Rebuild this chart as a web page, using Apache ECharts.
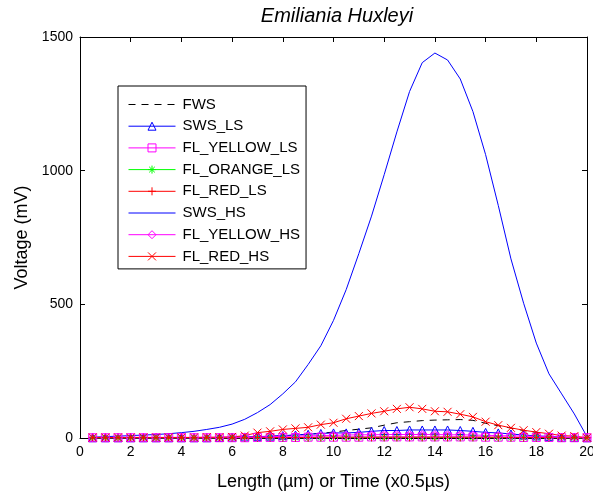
<!DOCTYPE html>
<html>
<head>
<meta charset="utf-8">
<script src="https://cdn.jsdelivr.net/npm/echarts@6/dist/echarts.min.js"></script>
<style>
  html, body { margin: 0; padding: 0; background: #fff; }
  #chart { width: 593px; height: 491px; }
</style>
</head>
<body>
<div id="chart"></div>
<script>
// Sample positions along the particle (0.5 steps)
var xPos = [0.5, 1, 1.5, 2, 2.5, 3, 3.5, 4, 4.5, 5, 5.5, 6, 6.5, 7, 7.5, 8, 8.5, 9, 9.5, 10,
            10.5, 11, 11.5, 12, 12.5, 13, 13.5, 14, 14.5, 15, 15.5, 16, 16.5, 17, 17.5, 18, 18.5, 19, 19.5, 20];

// Channel voltages (mV)
var fws        = [2, 2, 2, 2, 2, 2, 2, 2, 2, 2, 2, 2, 3, 4, 6, 8, 11, 14, 18, 22,
                  28, 33, 38, 48, 57, 61, 65, 67, 68, 69, 66, 55, 46, 37, 28, 21, 14, 8, 5, 1];
var swsLS      = [1, 1, 1, 1, 1, 1, 1, 1, 1, 1, 2, 3, 4, 5, 7, 9, 11, 14, 17, 19,
                  19, 21, 25, 28, 28, 30, 30, 30, 30, 28, 25, 21, 19, 15, 11, 8, 6, 3, 2, 1];
var flYellowLS = [1, 1, 1, 1, 1, 1, 1, 1, 1, 1, 1, 1, 1, 2, 2, 2, 2, 3, 3, 3,
                  3, 3, 4, 4, 4, 4, 4, 4, 4, 4, 4, 3, 3, 3, 2, 2, 2, 1, 1, 1];
var flOrangeLS = [0, 0, 0, 0, 0, 0, 0, 0, 0, 0, 0, 1, 1, 1, 1, 1, 1, 1, 1, 2,
                  2, 2, 2, 2, 2, 2, 2, 2, 2, 2, 2, 2, 1, 1, 1, 1, 1, 1, 0, 0];
var flRedLS    = [1, 1, 1, 1, 1, 1, 1, 1, 1, 1, 1, 1, 1, 2, 2, 2, 2, 2, 3, 3,
                  3, 3, 3, 3, 3, 3, 3, 3, 3, 3, 3, 3, 3, 2, 2, 2, 2, 1, 1, 1];
var swsHS      = [3, 5, 7, 9, 11, 13, 16, 20, 25, 32, 40, 52, 70, 95, 125, 165, 210, 275, 345, 440,
                  555, 690, 830, 985, 1145, 1296, 1404, 1440, 1414, 1343, 1221, 1060, 870, 670, 504, 355, 240, 165, 90, 5];
var flYellowHS = [1, 1, 1, 1, 1, 1, 1, 1, 1, 1, 2, 2, 3, 4, 5, 6, 7, 8, 9, 10,
                  11, 12, 12, 13, 13, 13, 13, 13, 12, 12, 11, 10, 9, 8, 7, 6, 4, 3, 2, 1];
var flRedHS    = [2, 2, 2, 2, 2, 2, 2, 2, 2, 3, 3, 4, 9, 20, 25, 32, 36, 40, 50, 57,
                  72, 82, 92, 100, 109, 115, 109, 100, 98, 89, 79, 61, 48, 38, 29, 22, 16, 9, 7, 1];

var seriesNames = ['FWS', 'SWS_LS', 'FL_YELLOW_LS', 'FL_ORANGE_LS', 'FL_RED_LS', 'SWS_HS', 'FL_YELLOW_HS', 'FL_RED_HS'];
var xTicks = [0, 2, 4, 6, 8, 10, 12, 14, 16, 18, 20];
var yTicks = [0, 500, 1000, 1500];

var FONT = '"Liberation Sans", Arial, Helvetica, sans-serif';

// Stroke-only marker shapes
var MARK_PLUS = 'path://M0,5L10,5M5,0L5,10';
var MARK_CROSS = 'path://M0,0L10,10M10,0L0,10';
var MARK_STAR = 'path://M0,5L10,5M5,0L5,10M1.5,1.5L8.5,8.5M8.5,1.5L1.5,8.5';

function pairs(ys) {
  return ys.map(function (y, i) { return [xPos[i], y]; });
}

function makeSeries(name, ys, color, symbol, dashed) {
  return {
    name: name,
    type: 'line',
    data: pairs(ys),
    symbol: symbol || 'none',
    symbolSize: 8,
    showSymbol: !!symbol,
    lineStyle: { color: color, width: 1, type: dashed ? [7, 6] : 'solid' },
    itemStyle: { color: symbol ? 'transparent' : color, borderColor: color, borderWidth: 1 },
    emphasis: { disabled: true },
    animation: false,
    z: 2
  };
}

var series = [
  makeSeries(seriesNames[0], fws, '#000000', null, true),
  makeSeries(seriesNames[1], swsLS, '#0000ff', 'triangle'),
  makeSeries(seriesNames[2], flYellowLS, '#ff00ff', 'rect'),
  makeSeries(seriesNames[3], flOrangeLS, '#00ff00', MARK_STAR),
  makeSeries(seriesNames[4], flRedLS, '#ff0000', MARK_PLUS),
  makeSeries(seriesNames[5], swsHS, '#0000ff', null),
  makeSeries(seriesNames[6], flYellowHS, '#ff00ff', 'diamond'),
  makeSeries(seriesNames[7], flRedHS, '#ff0000', MARK_CROSS)
];

var legendData = series.map(function (s) {
  var hasMark = s.symbol !== 'none';
  return {
    name: s.name,
    itemStyle: hasMark
      ? { color: 'transparent', borderColor: s.lineStyle.color, borderWidth: 1 }
      : { opacity: 0 },
    lineStyle: { color: s.lineStyle.color, width: 1, type: s.lineStyle.type }
  };
});

function axisCommon() {
  return {
    axisLine: { show: true, onZero: false, lineStyle: { color: '#000', width: 1 } },
    axisTick: { show: true, inside: true, length: 5, lineStyle: { color: '#000', width: 1 } },
    splitLine: { show: false },
    minorTick: { show: false }
  };
}

function plainNumber(v) { return String(v); }

var chart = echarts.init(document.getElementById('chart'), null, { renderer: 'canvas' });
chart.setOption({
  animation: false,
  backgroundColor: '#ffffff',
  title: {
    text: 'Emiliania Huxleyi',
    left: 332,
    top: 1,
    textAlign: 'center',
    textStyle: { fontFamily: FONT, fontStyle: 'italic', fontWeight: 'normal', fontSize: 20, color: '#000' }
  },
  grid: { left: 80, right: 6, top: 37, bottom: 53, containLabel: false, outerBoundsMode: 'none' },
  legend: {
    orient: 'vertical',
    left: 118,
    top: 86,
    data: legendData,
    itemWidth: 47,
    itemHeight: 10,
    itemGap: 4.7,
    padding: [10, 6, 4, 10],
    borderColor: '#000',
    borderWidth: 1,
    backgroundColor: '#fff',
    selectedMode: false,
    textStyle: { fontFamily: FONT, fontSize: 15, color: '#000', lineHeight: 17, padding: [0, 0, 0, 2] }
  },
  xAxis: [
    Object.assign({
      type: 'value', position: 'bottom', min: xTicks[0], max: xTicks[xTicks.length - 1], interval: 2,
      name: 'Length (µm) or Time (x0.5µs)',
      nameLocation: 'middle', nameGap: 35,
      nameTextStyle: { fontFamily: FONT, fontSize: 18, color: '#000' },
      axisLabel: { fontFamily: FONT, fontSize: 14, color: '#000', margin: 7, formatter: plainNumber }
    }, axisCommon()),
    Object.assign({
      type: 'value', position: 'top', min: xTicks[0], max: xTicks[xTicks.length - 1], interval: 2,
      axisLabel: { show: false }
    }, axisCommon())
  ],
  yAxis: [
    Object.assign({
      type: 'value', position: 'left', min: yTicks[0], max: yTicks[yTicks.length - 1], interval: 500,
      name: 'Voltage (mV)',
      nameLocation: 'middle', nameGap: 45,
      nameTextStyle: { fontFamily: FONT, fontSize: 18, color: '#000' },
      axisLabel: { fontFamily: FONT, fontSize: 14, color: '#000', margin: 7, formatter: plainNumber }
    }, axisCommon()),
    Object.assign({
      type: 'value', position: 'right', min: yTicks[0], max: yTicks[yTicks.length - 1], interval: 500,
      axisLabel: { show: false }
    }, axisCommon())
  ],
  series: series
});
</script>
</body>
</html>
